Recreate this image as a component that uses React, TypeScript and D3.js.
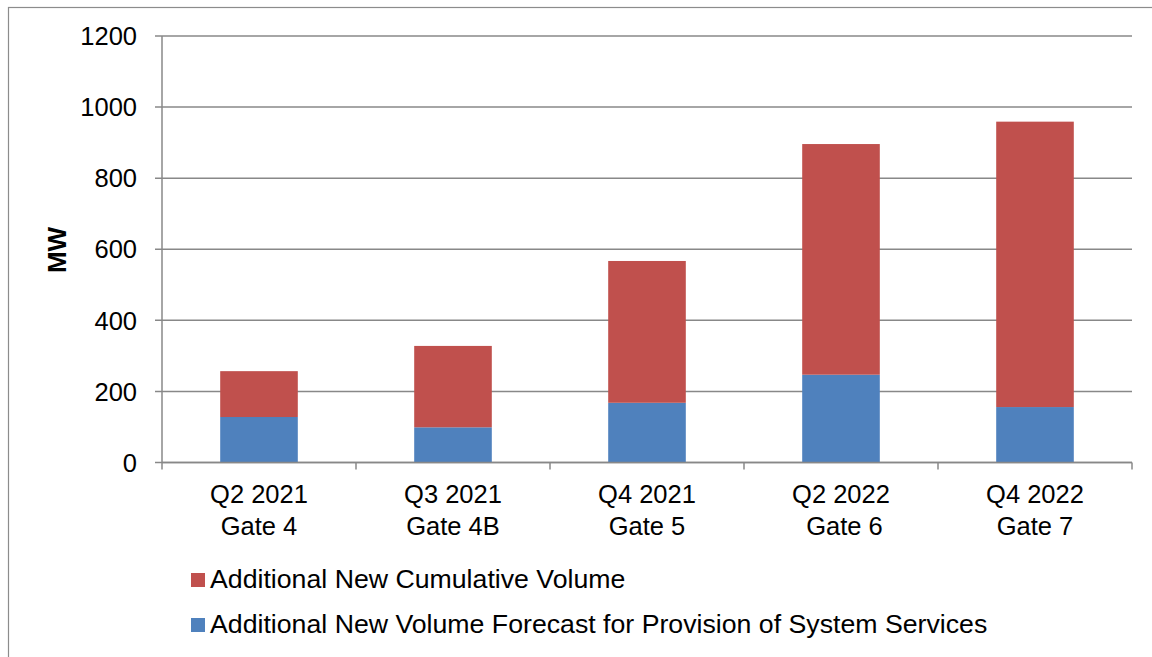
import React from "react";
import * as d3 from "d3";

const categories = [
  ["Q2 2021", "Gate 4"],
  ["Q3 2021", "Gate 4B"],
  ["Q4 2021", "Gate 5"],
  ["Q2 2022", " Gate 6"],
  ["Q4 2022", "Gate 7"],
];
const systemServices = [128, 99, 168, 247, 156];
const cumulative = [129, 229, 399, 649, 803];
const yTicks = [0, 200, 400, 600, 800, 1000, 1200];
const seriesNames = [
  "Additional New Cumulative Volume",
  "Additional New Volume Forecast for Provision of System Services",
];
const colors = { red: "#C0504D", blue: "#4F81BD" };

export default function App() {
  const W = 1152;
  const H = 657;
  const left = 162;
  const right = 1132;
  const top = 36;
  const bottom = 462.5;
  const font = "'Liberation Sans', Arial, sans-serif";

  const x = d3
    .scaleBand<number>()
    .domain(d3.range(categories.length))
    .range([left, right])
    .paddingInner(0.6)
    .paddingOuter(0.3);
  const bandStep = (right - left) / categories.length;
  const y = d3.scaleLinear().domain([0, 1200]).range([bottom, top]);

  const stacked = categories.map((_, i) => ({
    blue: [0, systemServices[i]],
    red: [systemServices[i], systemServices[i] + cumulative[i]],
  }));

  const grid = "#888888";

  return (
    <svg
      width={W}
      height={H}
      style={{ position: "absolute", left: 0, top: 0, background: "#fff" }}
    >
      <rect x={0} y={0} width={W} height={H} fill="#fff" />
      <rect
        x={8.5}
        y={7.5}
        width={W + 20}
        height={H + 20}
        fill="none"
        stroke="#8c8c8c"
        strokeWidth={1.2}
      />
      {yTicks.map((t) => (
        <line
          key={"g" + t}
          x1={155}
          x2={right}
          y1={y(t)}
          y2={y(t)}
          stroke={grid}
          strokeWidth={1.5}
        />
      ))}
      {yTicks.map((t) => (
        <text
          key={"yl" + t}
          x={137}
          y={y(t)}
          dy="0.36em"
          textAnchor="end"
          fontFamily={font}
          fontSize={25.5}
          fill="#000"
        >
          {t}
        </text>
      ))}
      {stacked.map((s, i) => (
        <g key={"b" + i}>
          <rect
            x={x(i)!}
            width={x.bandwidth()}
            y={y(s.blue[1])}
            height={y(s.blue[0]) - y(s.blue[1])}
            fill={colors.blue}
          />
          <rect
            x={x(i)!}
            width={x.bandwidth()}
            y={y(s.red[1])}
            height={y(s.red[0]) - y(s.red[1])}
            fill={colors.red}
          />
        </g>
      ))}
      <line x1={left} x2={left} y1={top} y2={bottom} stroke={grid} strokeWidth={1.5} />
      <line x1={left} x2={right} y1={bottom} y2={bottom} stroke={grid} strokeWidth={1.5} />
      {d3.range(categories.length + 1).map((i) => (
        <line
          key={"xt" + i}
          x1={left + i * bandStep}
          x2={left + i * bandStep}
          y1={bottom}
          y2={bottom + 7}
          stroke={grid}
          strokeWidth={1.5}
        />
      ))}
      {categories.map((c, i) => (
        <text
          key={"xl" + i}
          x={x(i)! + x.bandwidth() / 2}
          textAnchor="middle"
          fontFamily={font}
          fontSize={25.5}
          fill="#000"
        >
          <tspan x={x(i)! + x.bandwidth() / 2} y={503}>
            {c[0]}
          </tspan>
          <tspan x={x(i)! + x.bandwidth() / 2} y={534.5}>
            {c[1]}
          </tspan>
        </text>
      ))}
      <text
        transform={`translate(66, 250) rotate(-90)`}
        textAnchor="middle"
        fontFamily={font}
        fontSize={26}
        fontWeight="bold"
        fill="#000"
      >
        MW
      </text>
      {seriesNames.map((n, i) => (
        <g key={"lg" + i} transform={`translate(191, ${573 + i * 45})`}>
          <rect width={14} height={14} fill={i === 0 ? colors.red : colors.blue} />
          <text x={19} y={14.8} fontFamily={font} fontSize={26.7} fill="#000">
            {n}
          </text>
        </g>
      ))}
    </svg>
  );
}
